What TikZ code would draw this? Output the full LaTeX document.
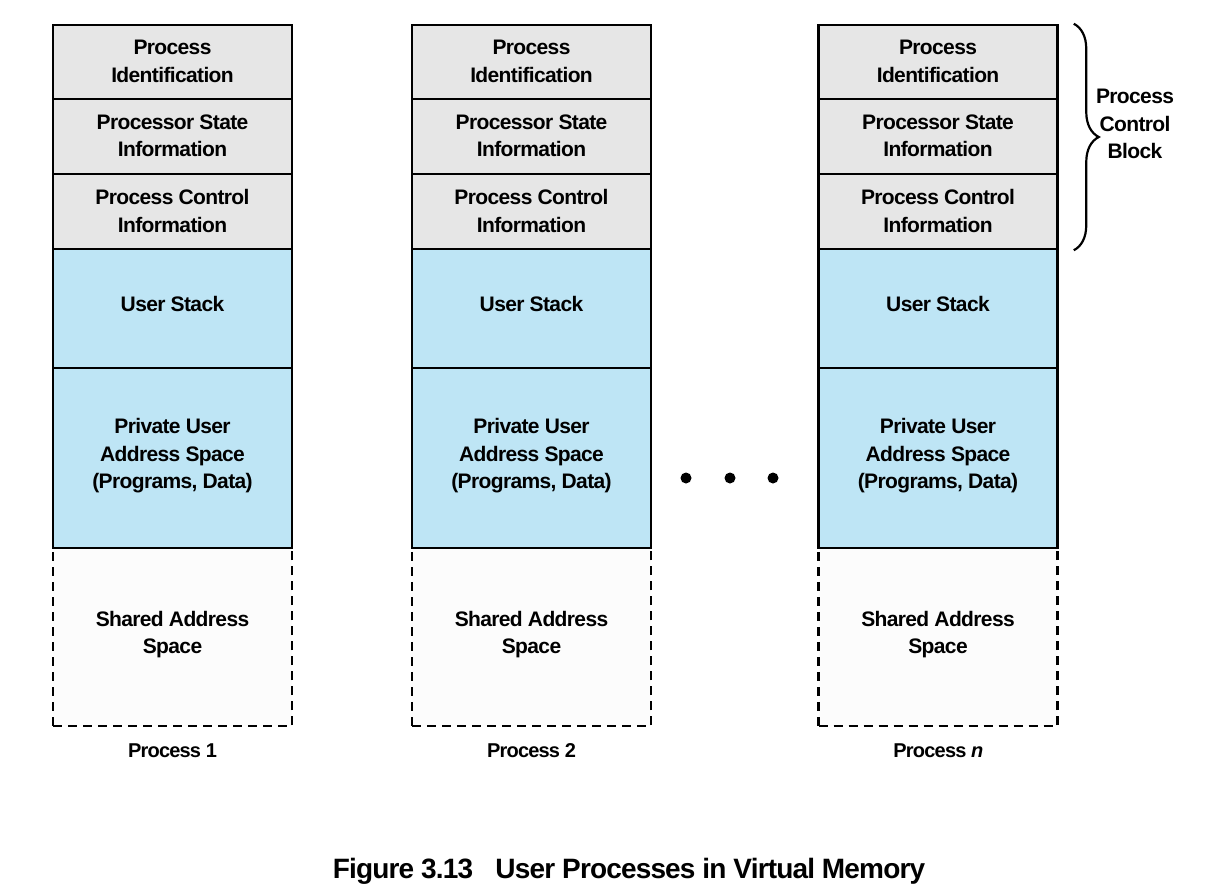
\documentclass[tikz,border=0pt]{standalone}
\usepackage{fontspec}
\setmainfont{Liberation Sans}[LetterSpace=-3]
\usetikzlibrary{decorations.pathreplacing}
\definecolor{pcbgray}{HTML}{E6E6E6}
\definecolor{userblue}{HTML}{BEE5F5}
\definecolor{shgray}{HTML}{FCFCFC}
\newcommand\lbl{\fontsize{21}{27.5}\selectfont\bfseries}
\tikzset{
  cell/.style={draw, line width=2.5pt, minimum width=239pt, inner sep=0pt, align=center, font=\lbl},
  pcbcell/.style={cell, fill=pcbgray, text depth=1.5pt},
  usrcell/.style={cell, fill=userblue, text depth=9pt},
  shrcell/.style={cell, fill=shgray, text depth=9.5pt, dash pattern=on 9pt off 6pt},
  plabel/.style={font=\fontsize{20}{24}\selectfont\bfseries\addfontfeatures{LetterSpace=-4}},
  blabel/.style={font=\lbl, align=center},
  dotmark/.style={fill=black},
}
\newcommand\proccol[3]{%
  \node[shrcell, minimum height=178pt] (#1sh) at (#2,637) {Shared Address\\Space};
  \node[usrcell, minimum height=119pt] (#1us) at (#2,308.5) {User Stack};
  \node[usrcell, minimum height=180pt] (#1pa) at (#2,458) {Private User\\Address Space\\(Programs, Data)};
  \node[pcbcell, minimum height=74pt] (#1id) at (#2,62) {Process\\Identification};
  \node[pcbcell, minimum height=75pt] (#1st) at (#2,136.5) {Processor State\\Information};
  \node[pcbcell, minimum height=75pt] (#1ct) at (#2,211.5) {Process Control\\Information};
  \node[plabel] (#1lab) at (#2,751) {#3};
}
\begin{document}
\begin{tikzpicture}[x=1pt,y=-1pt]
\useasboundingbox (0,0) rectangle (1212,884);
\proccol{p1}{172.5}{Process 1}
\proccol{p2}{531.5}{Process 2}
\proccol{p3}{938}{Process \textit{n}}
\fill[dotmark] (686,478) circle (5.5pt);
\fill[dotmark] (730,478) circle (5.5pt);
\fill[dotmark] (773,478) circle (5.5pt);
\coordinate (brt) at ([xshift=15pt]p3id.north east);
\coordinate (brb) at ([xshift=15pt]p3ct.south east);
\draw[decorate, decoration={brace, amplitude=25pt}, line width=2.2pt] (brt) -- (brb);
\node[blabel] (pcb) at (1135,124) {Process\\Control\\Block};
\node[font=\fontsize{28}{30}\selectfont\bfseries, anchor=base] (cap) at (629,878) {Figure 3.13\hspace{0.8em}User Processes in Virtual Memory};
\end{tikzpicture}
\end{document}
